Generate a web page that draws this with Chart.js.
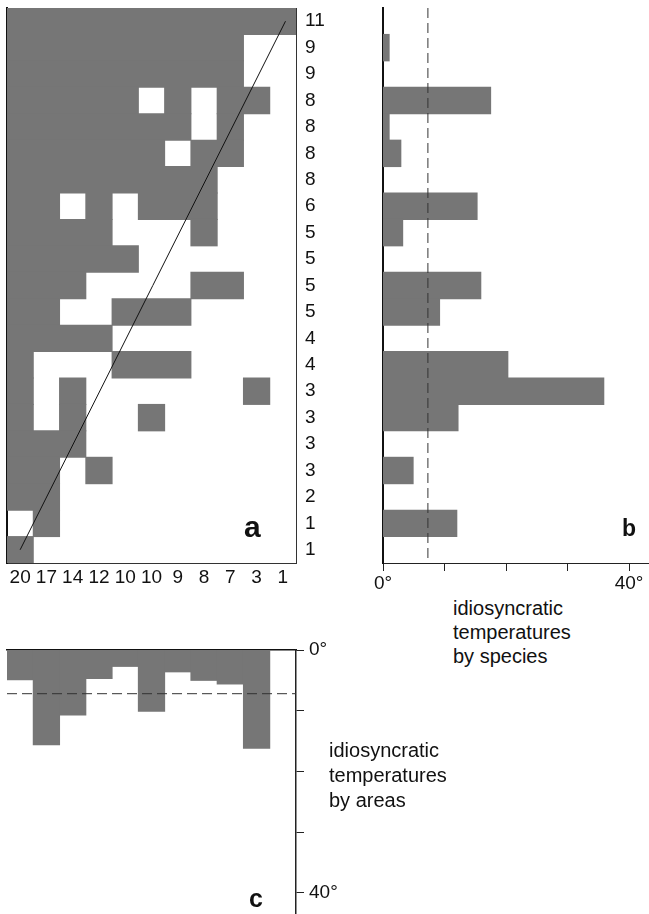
<!DOCTYPE html>
<html>
<head>
<meta charset="utf-8">
<script src="https://cdn.jsdelivr.net/npm/chart.js@4.4.0/dist/chart.umd.min.js"></script>
<style>
  body { margin: 0; background: #fff; width: 649px; height: 914px; position: relative; overflow: hidden;
         font-family: "Liberation Sans", Arial, Helvetica, sans-serif; color: #111; }
  .panel { position: absolute; }
  .letter { position: absolute; font-weight: bold; line-height: 1; }
  .caption { position: absolute; font-size: 20px; }
</style>
</head>
<body>
<div class="panel" style="left:0;top:0;width:340px;height:595px"><canvas id="chartA"></canvas></div>
<div class="panel" style="left:340px;top:0;width:309px;height:595px"><canvas id="chartB"></canvas></div>
<div class="panel" style="left:0;top:620px;width:360px;height:294px"><canvas id="chartC"></canvas></div>

<div class="letter" style="left:244px;top:512px;font-size:30px">a</div>
<div class="letter" style="left:622px;top:517px;font-size:23px">b</div>
<div class="letter" style="left:249px;top:886px;font-size:25px">c</div>
<div class="caption" style="left:453px;top:596px;line-height:24px">idiosyncratic<br>temperatures<br>by species</div>
<div class="caption" style="left:329px;top:738px;line-height:25px">idiosyncratic<br>temperatures<br>by areas</div>

<script>
// species (rows) x areas (columns), 1 = present
const presence = [
    "11111111111",
    "11111111100",
    "11111111100",
    "11111010110",
    "11111110100",
    "11111101100",
    "11111111000",
    "11010111000",
    "11110001000",
    "11111000000",
    "11100001100",
    "11001110000",
    "11110000000",
    "10001110000",
    "10100000010",
    "10100100000",
    "11100000000",
    "11010000000",
    "11000000000",
    "01000000000",
    "10000000000"
];
const rowTotals = [11, 9, 9, 8, 8, 8, 8, 6, 5, 5, 5, 5, 4, 4, 3, 3, 3, 3, 2, 1, 1];
const colTotals = [20, 17, 14, 12, 10, 10, 9, 8, 7, 3, 1];

// idiosyncratic temperatures (degrees), null = no bar
const speciesTemps = [null, 1, null, 17.5, 1, 2.9, null, 15.3, 3.2, null, 15.9, 9.2, null, 20.3, 35.9, 12.2, null, 4.9, null, 12, null];
const areaTemps = [4.9, 15.6, 10.7, 4.7, 2.7, 10.1, 3.6, 5.0, 5.6, 16.2, null];
const speciesMean = 7.3;
const areaMean = 7.2;

// line of perfect nestedness (matrix units: column, row)
const diagLine = [{ x: 0.5, y: 20 }, { x: 10.6, y: 0 }];

const tempTicks = [0, 10, 20, 30, 40];
const tempTickLabels = ['0°', '', '', '', '40°'];

const gray = '#767676';
const ink = '#111';

Chart.defaults.font.family = '"Liberation Sans", Arial, Helvetica, sans-serif';
Chart.defaults.color = ink;
Chart.defaults.animation = false;
Chart.defaults.plugins.legend.display = false;
Chart.defaults.plugins.tooltip.enabled = false;
Chart.defaults.maintainAspectRatio = false;

// fixed axis sizes so that the three panels line up
function fixSize(w, h) {
    return function (ax) {
        if (w !== null) ax.width = w;
        if (h !== null) ax.height = h;
        ax.paddingLeft = ax.paddingRight = ax.paddingTop = ax.paddingBottom = 0;
    };
}
function setTicks(values) {
    return function (ax) { ax.ticks = values.map(v => ({ value: v })); };
}
// common bits for every axis: exact range, no offset
function axis(extra) {
    return Object.assign({ type: 'linear', offset: false, bounds: 'data', grace: 0 }, extra);
}
const rowIdx = rowTotals.map((_, i) => i);
const colCenters = colTotals.map((_, i) => i + 0.5);
const colEdges = [0].concat(colTotals.map((_, i) => i + 1));

// merge runs of present cells into floating bars
const cells = [];
presence.forEach((row, i) => {
    let j = 0;
    while (j < row.length) {
        if (row[j] === '1') {
            let k = j;
            while (k < row.length && row[k] === '1') k++;
            cells.push({ x: [j, k], y: i });
            j = k;
        } else {
            j++;
        }
    }
});

// a: presence matrix
new Chart(document.getElementById('chartA'), {
    type: 'bar',
    data: {
        datasets: [
            {
                type: 'line', data: diagLine, borderColor: ink, borderWidth: 1,
                pointRadius: 0, order: -1, xAxisID: 'x', yAxisID: 'y'
            },
            {
                data: cells, indexAxis: 'y', backgroundColor: gray,
                categoryPercentage: 1, barPercentage: 1, inflateAmount: 0.5,
                xAxisID: 'x', yAxisID: 'y'
            }
        ]
    },
    options: {
        layout: { padding: { left: 7, top: 8, right: 0, bottom: 0 } },
        scales: {
            x: axis({
                position: 'bottom', min: 0, max: 11,
                grid: { display: false, drawTicks: false, offset: false },
                border: { display: true, color: '#333', width: 1 },
                afterBuildTicks: setTicks(colCenters),
                ticks: { autoSkip: false, maxRotation: 0, padding: 3, font: { size: 19 },
                         callback: (v, i) => colTotals[i] },
                afterFit: fixSize(null, 32)
            }),
            xTop: axis({
                position: 'top', min: 0, max: 11,
                grid: { display: false, drawTicks: false, offset: false },
                border: { display: true, color: '#333', width: 1 },
                ticks: { display: false },
                afterFit: fixSize(null, 0)
            }),
            y: axis({
                position: 'right', min: -0.5, max: 20.5, reverse: true,
                grid: { display: false, drawTicks: false, offset: false },
                border: { display: true, color: '#333', width: 1 },
                afterBuildTicks: setTicks(rowIdx),
                ticks: { autoSkip: false, padding: 9, font: { size: 19 },
                         callback: (v, i) => rowTotals[i] },
                afterFit: fixSize(44, null)
            }),
            yLeft: axis({
                position: 'left', min: -0.5, max: 20.5, reverse: true,
                grid: { display: false, drawTicks: false, offset: false },
                border: { display: true, color: ink, width: 2 },
                ticks: { display: false },
                afterFit: fixSize(0, null)
            })
        }
    }
});

// b: temperatures by species
new Chart(document.getElementById('chartB'), {
    type: 'bar',
    data: {
        datasets: [
            {
                type: 'line', indexAxis: 'y',
                data: [{ x: speciesMean, y: -0.5 }, { x: speciesMean, y: 20.5 }],
                borderColor: '#333', borderWidth: 1, borderDash: [10, 5], pointRadius: 0, order: -1
            },
            {
                data: speciesTemps.map((v, i) => ({ x: v, y: i })).filter(d => d.x !== null),
                indexAxis: 'y', backgroundColor: gray,
                categoryPercentage: 1, barPercentage: 1, inflateAmount: 0.5
            }
        ]
    },
    options: {
        layout: { padding: { left: 43, top: 8, right: 0, bottom: 0 } },
        scales: {
            x: axis({
                position: 'bottom', min: 0, max: 43.25,
                grid: { display: true, offset: false, drawOnChartArea: false, drawTicks: true,
                        tickLength: 8, color: '#222', lineWidth: 1 },
                border: { display: true, color: '#222', width: 1 },
                afterBuildTicks: setTicks(tempTicks),
                ticks: { autoSkip: false, maxRotation: 0, padding: 1, font: { size: 19 },
                         callback: (v, i) => tempTickLabels[i] },
                afterFit: fixSize(null, 32)
            }),
            y: axis({
                position: 'left', min: -0.5, max: 20.5, reverse: true,
                grid: { display: false, drawTicks: false, offset: false },
                border: { display: true, color: ink, width: 2 },
                afterBuildTicks: setTicks(rowIdx),
                ticks: { display: false },
                afterFit: fixSize(0, null)
            })
        }
    }
});

// c: temperatures by areas
new Chart(document.getElementById('chartC'), {
    type: 'bar',
    data: {
        datasets: [
            {
                type: 'line',
                data: [{ x: 0, y: areaMean }, { x: 11, y: areaMean }],
                borderColor: '#333', borderWidth: 1, borderDash: [10, 5], pointRadius: 0, order: -1
            },
            {
                data: areaTemps.map((v, i) => ({ x: i + 0.5, y: v })).filter(d => d.y !== null),
                backgroundColor: gray, categoryPercentage: 1, barPercentage: 1, inflateAmount: 0.5
            }
        ]
    },
    options: {
        layout: { padding: { left: 7, top: 30, right: 0, bottom: 0 } },
        scales: {
            x: axis({
                position: 'top', min: 0, max: 11,
                grid: { display: false, drawTicks: false, offset: false },
                border: { display: true, color: ink, width: 1.5 },
                afterBuildTicks: setTicks(colEdges),
                ticks: { display: false },
                afterFit: fixSize(null, 0)
            }),
            y: axis({
                position: 'right', min: 0, max: 43.5, reverse: true,
                grid: { display: true, offset: false, drawOnChartArea: false, drawTicks: true,
                        tickLength: 8, color: '#222', lineWidth: 1 },
                border: { display: true, color: '#222', width: 1.5 },
                afterBuildTicks: setTicks(tempTicks),
                ticks: { autoSkip: false, padding: 5, font: { size: 19 },
                         callback: (v, i) => tempTickLabels[i] },
                afterFit: fixSize(64, null)
            })
        }
    }
});
</script>
</body>
</html>
